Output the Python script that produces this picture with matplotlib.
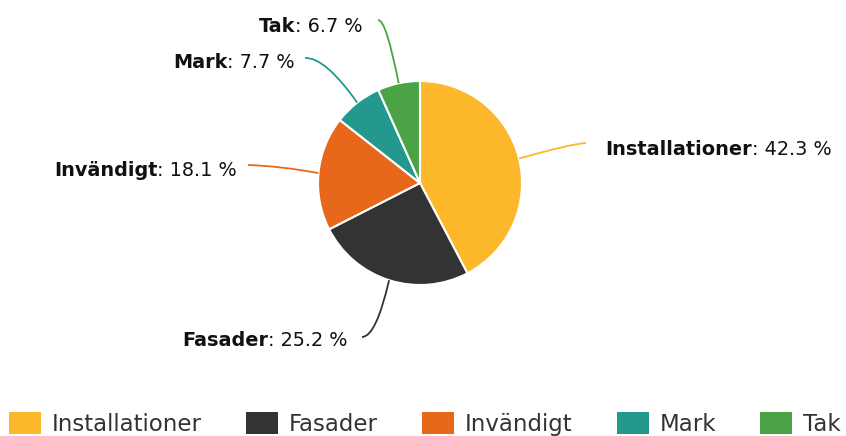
import numpy as np
import matplotlib
matplotlib.use("Agg")
import matplotlib.pyplot as plt
from matplotlib.patches import Patch
from matplotlib.path import Path
from matplotlib.patches import PathPatch

plt.rcParams['font.family'] = ['DejaVu Sans']

# data
categories = ["Installationer", "Fasader", "Invändigt", "Mark", "Tak"]
shares = [42.3, 25.2, 18.1, 7.7, 6.7]
colors = ["#FDB72B", "#333333", "#E8681B", "#23998E", "#4BA346"]

W, H = 846, 436

# label layout in pixel coords (x, baseline y, side), connector end + control point
label_pos = [(605, 155, 'left'), (348, 346, 'right'), (237, 176, 'right'),
             (295, 68, 'right'), (363, 32, 'right')]
conn_end = [(586, 143), (362, 337), (248, 165), (305, 58), (378, 20)]
conn_ctrl = [(570, 144), (376, 337), (280, 166), (325, 57), (386, 19)]

fig = plt.figure(figsize=(W / 100, H / 100), dpi=100)
ax = fig.add_axes([0, 0, 1, 1])

cx, cy, r = 420, H - 183, 102
wedges, _ = ax.pie(shares, colors=colors, startangle=90, counterclock=False,
                   center=(cx, cy), radius=r,
                   wedgeprops=dict(edgecolor='white', linewidth=1.5))
ax.set_xlim(0, W)
ax.set_ylim(0, H)
ax.set_aspect('auto')
ax.axis('off')

fs = 13.9
for w, cat, val, col, lp, ce, cc in zip(wedges, categories, shares, colors,
                                        label_pos, conn_end, conn_ctrl):
    # connector: from slice edge at mid angle, curving into the label
    mid = np.deg2rad((w.theta1 + w.theta2) / 2)
    sx, sy = cx + r * np.cos(mid), cy + r * np.sin(mid)
    ex, ey = ce[0], H - ce[1]
    kx, ky = cc[0], H - cc[1]
    path = Path([(sx, sy), (kx, ky), (ex, ey)], [Path.MOVETO, Path.CURVE3, Path.CURVE3])
    ax.add_patch(PathPatch(path, fill=False, edgecolor=col, lw=1.3))

    lx, ly, side = lp
    ly = H - ly
    rest = ": %.1f %%" % val
    if side == 'left':
        t1 = ax.text(lx, ly, cat, fontsize=fs, fontweight='bold', color='#111111',
                     ha='left', va='baseline')
        ax.annotate(rest, xy=(1, ly), xycoords=(t1, 'data'), fontsize=fs,
                    color='#111111', ha='left', va='baseline')
    else:
        t1 = ax.text(lx, ly, rest, fontsize=fs, color='#111111',
                     ha='right', va='baseline')
        ax.annotate(cat, xy=(0, ly), xycoords=(t1, 'data'), fontsize=fs,
                    fontweight='bold', color='#111111', ha='right', va='baseline')

# legend
lfs = 16.5
fpx = lfs * 100 / 72
handles = [Patch(facecolor=c, edgecolor='none', label=n) for c, n in zip(colors, categories)]
leg = fig.legend(handles=handles, loc='lower left', bbox_to_anchor=(9 / W, 0),
                 ncol=5, frameon=False, fontsize=lfs,
                 handlelength=32 / fpx, handleheight=25 / fpx,
                 handletextpad=11 / fpx, columnspacing=44 / fpx,
                 borderpad=0, borderaxespad=0)
for t in leg.get_texts():
    t.set_color('#333333')

fig.savefig("out.png", dpi=100)
